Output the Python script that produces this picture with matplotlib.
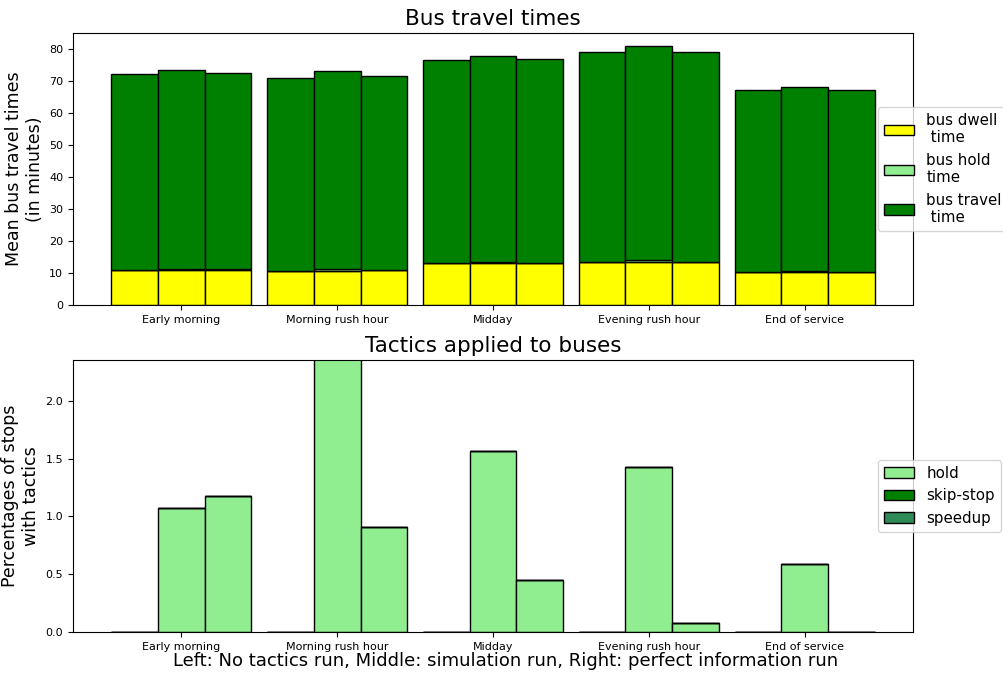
import numpy as np
import matplotlib.pyplot as plt

periods = ["Early morning", "Morning rush hour", "Midday", "Evening rush hour", "End of service"]

# mean times in minutes, one list per run (no tactics, simulation, perfect information)
dwell_none = [11.0, 10.5, 13.1, 13.3, 10.2]
dwell_sim = [11.0, 10.5, 13.1, 13.3, 10.2]
dwell_perfect = [11.0, 10.8, 13.1, 13.3, 10.2]

hold_none = [0.0, 0.0, 0.0, 0.0, 0.0]
hold_sim = [0.35, 0.85, 0.4, 0.85, 0.5]
hold_perfect = [0.1, 0.2, 0.1, 0.05, 0.0]

travel_none = [61.3, 60.4, 63.5, 65.7, 57.0]
travel_sim = [61.95, 61.65, 64.2, 66.75, 57.3]
travel_perfect = [61.4, 60.7, 63.7, 65.75, 57.0]

# percentage of stops where each tactic was used
hold_pct_none = [0.0, 0.0, 0.0, 0.0, 0.0]
hold_pct_sim = [1.07, 2.6, 1.57, 1.43, 0.59]
hold_pct_perfect = [1.18, 0.91, 0.45, 0.08, 0.0]
skip_pct_none = [0.0, 0.0, 0.0, 0.0, 0.0]
skip_pct_sim = [0.0, 0.0, 0.0, 0.0, 0.0]
skip_pct_perfect = [0.0, 0.0, 0.0, 0.0, 0.0]
speed_pct_none = [0.0, 0.0, 0.0, 0.0, 0.0]
speed_pct_sim = [0.0, 0.0, 0.0, 0.0, 0.0]
speed_pct_perfect = [0.0, 0.0, 0.0, 0.0, 0.0]

x = np.arange(len(periods))
width = 0.3
offsets = [-width, 0, width]

fig = plt.figure(figsize=(10.04, 6.74), dpi=100)
ax1 = fig.add_axes([0.0727, 0.5475, 0.8367, 0.4035])
ax2 = fig.add_axes([0.0727, 0.0623, 0.8367, 0.4036])

# top: stacked travel time components
runs = [(dwell_none, hold_none, travel_none),
        (dwell_sim, hold_sim, travel_sim),
        (dwell_perfect, hold_perfect, travel_perfect)]
for i, (dwell, hold, travel) in enumerate(runs):
    dwell = np.array(dwell)
    hold = np.array(hold)
    pos = x + offsets[i]
    ax1.bar(pos, dwell, width, color="yellow", edgecolor="black",
            label="bus dwell\n time" if i == 0 else None)
    ax1.bar(pos, hold, width, bottom=dwell, color="lightgreen", edgecolor="black",
            label="bus hold\ntime" if i == 0 else None)
    ax1.bar(pos, travel, width, bottom=dwell + hold, color="green", edgecolor="black",
            label="bus travel\n time" if i == 0 else None)

ax1.set_ylim(0, 85)
ax1.set_yticks(range(0, 81, 10))
ax1.set_xticks(x)
ax1.set_xticklabels(periods)
ax1.tick_params(labelsize=8)
ax1.set_ylabel("Mean bus travel times\n(in minutes)", fontsize=12.5)
ax1.set_title("Bus travel times", fontsize=15.5)
ax1.legend(loc="center left", bbox_to_anchor=(0.9585, 0.5), borderaxespad=0,
           fontsize=10.8)

# bottom: tactics applied
tactics = [(hold_pct_none, skip_pct_none, speed_pct_none),
           (hold_pct_sim, skip_pct_sim, speed_pct_sim),
           (hold_pct_perfect, skip_pct_perfect, speed_pct_perfect)]
for i, (hold, skip, speed) in enumerate(tactics):
    hold = np.array(hold)
    skip = np.array(skip)
    pos = x + offsets[i]
    ax2.bar(pos, hold, width, color="lightgreen", edgecolor="black",
            label="hold" if i == 0 else None)
    ax2.bar(pos, skip, width, bottom=hold, color="green", edgecolor="black",
            label="skip-stop" if i == 0 else None)
    ax2.bar(pos, speed, width, bottom=hold + skip, color="seagreen", edgecolor="black",
            label="speedup" if i == 0 else None)

ax2.set_ylim(0, 2.355)
ax2.set_xticks(x)
ax2.set_xticklabels(periods)
ax2.tick_params(labelsize=8)
ax2.set_ylabel("Percentages of stops\nwith tactics", fontsize=12.5)
ax2.set_title("Tactics applied to buses", fontsize=15.5)
ax2.legend(loc="center left", bbox_to_anchor=(0.9585, 0.5), borderaxespad=0,
           fontsize=10.8)

# shared note about which bar is which run
fig.text(0.504, 0.0193, "Left: No tactics run, Middle: simulation run, Right: perfect information run",
         ha="center", va="center", fontsize=13)

fig.savefig("out.png", dpi=100)
